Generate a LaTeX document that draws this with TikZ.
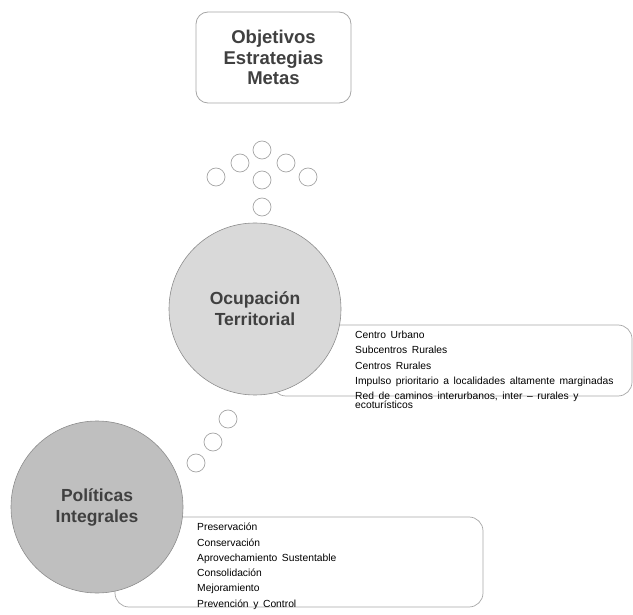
\documentclass[tikz,border=0pt]{standalone}
\usepackage{fontspec}
\setmainfont{Liberation Sans}
\usetikzlibrary{positioning}
\definecolor{inkgray}{HTML}{404040}
\definecolor{rimgray}{HTML}{8C8C8C}
\definecolor{boxgray}{HTML}{A6A6A6}
\definecolor{fillpale}{HTML}{D9D9D9}
\definecolor{filldeep}{HTML}{BFBFBF}
\newcommand\listfont{\fontsize{10.3}{15.3}\selectfont\spaceskip=4.6pt\relax}

\begin{document}
\begin{tikzpicture}[x=1pt, y=-1pt,
  titlebox/.style={draw=boxgray, line width=0.8pt, rounded corners=12pt, fill=white,
    minimum width=155pt, minimum height=91pt, align=center, text=inkgray,
    font=\fontsize{18.5}{20.5}\selectfont\bfseries},
  bubble/.style={circle, draw=boxgray, line width=0.7pt, fill=white, minimum size=18pt, inner sep=0},
  bigdisc/.style={circle, draw=rimgray, line width=0.6pt, minimum size=172pt, align=center,
    text=inkgray, font=\fontsize{17.5}{21}\selectfont\bfseries},
  callout/.style={draw=boxgray, line width=0.7pt, rounded corners=14pt, inner sep=0},
  itemlist/.style={anchor=north west, align=left, inner sep=0, text=black, font=\listfont}]
  \useasboundingbox (0,0) rectangle (633,615);

  % top box
  \node[titlebox] (goals) at (273.5,57.5) {Objetivos\\Estrategias\\Metas};

  % thought bubbles
  \foreach \bx/\by [count=\i] in {262/150, 240/163, 286/163, 216/177, 262/180, 308/177, 262/207}
    \node[bubble] (up\i) at (\bx,\by) {};
  \foreach \bx/\by [count=\i] in {228/419, 213/442, 196/463}
    \node[bubble] (low\i) at (\bx,\by) {};

  % callout boxes (behind the discs)
  \node[callout, minimum width=360pt, minimum height=71pt] (ocupbox) at (452,360.5) {};
  \node[callout, minimum width=368pt, minimum height=90pt] (polibox) at (299,562) {};

  % discs
  \node[bigdisc, fill=fillpale] (ocup) at (255,309) {Ocupación\\Territorial};
  \node[bigdisc, fill=filldeep] (poli) at (97,507) {Políticas\\Integrales};

  % lists
  \node[itemlist] (ocuplist) at (355,331) {Centro Urbano\\Subcentros Rurales\\Centros Rurales\\
    Impulso prioritario a localidades altamente marginadas\\
    Red de caminos interurbanos, inter -- rurales y\\[-6.5pt]ecoturísticos};
  \node[itemlist] (polilist) at (197,523) {Preservación\\Conservación\\Aprovechamiento Sustentable\\
    Consolidación\\Mejoramiento\\Prevención y Control};
\end{tikzpicture}
\end{document}
